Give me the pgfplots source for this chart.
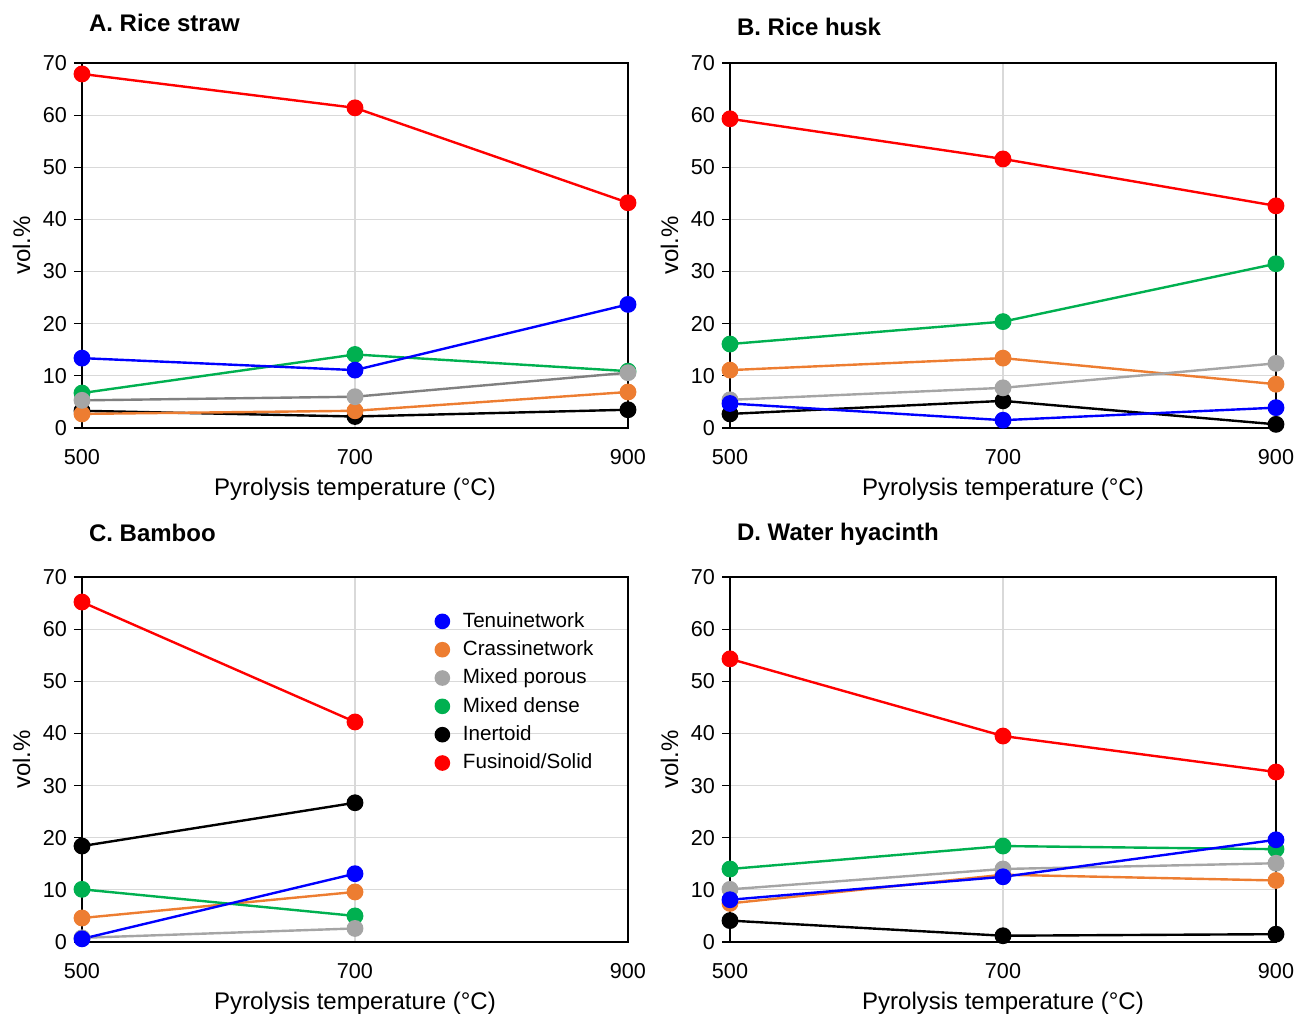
\documentclass[border=0pt]{standalone}
\usepackage{fontspec}
\setmainfont{Liberation Sans}
\usepackage{pgfplots}
\usepgfplotslibrary{groupplots}
\pgfplotsset{compat=1.18}

\definecolor{cblue}{RGB}{0,0,255}
\definecolor{corange}{RGB}{237,125,49}
\definecolor{cgray}{RGB}{165,165,165}
\definecolor{cdkgray}{RGB}{128,128,128}
\definecolor{cgreen}{RGB}{0,176,80}
\definecolor{cred}{RGB}{255,0,0}
\definecolor{cgrid}{RGB}{217,217,217}

\pgfplotsset{
  tenui/.style={color=cblue, mark=*, line width=1.2pt, mark size=3.6pt, mark options={solid}},
  crass/.style={color=corange, mark=*, line width=1.2pt, mark size=3.6pt, mark options={solid}},
  mporous/.style={color=cgray, mark=*, line width=1.2pt, mark size=3.6pt, mark options={solid}},
  mdense/.style={color=cgreen, mark=*, line width=1.2pt, mark size=3.6pt, mark options={solid}},
  inert/.style={color=black, mark=*, line width=1.2pt, mark size=3.6pt, mark options={solid}},
  fus/.style={color=cred, mark=*, line width=1.2pt, mark size=3.6pt, mark options={solid}},
  every axis title shift=0pt,
}

\begin{document}
\begin{tikzpicture}
\begin{groupplot}[
  group style={group size=2 by 2, horizontal sep=51pt, vertical sep=74.5pt},
  width=273pt, height=182.5pt, scale only axis,
  xmin=500, xmax=900, ymin=0, ymax=70,
  xtick={500,700,900}, ytick={0,10,...,70},
  xtick pos=bottom, ytick pos=left,
  grid=major, major grid style={cgrid, line width=0.6pt},
  axis line style={black, line width=0.7pt},
  tick align=outside, xtick style={draw=none}, ytick style={black, line width=0.6pt},
  major tick length=4pt,
  ticklabel style={font=\fontsize{10.8}{12}\selectfont},
  xticklabel style={yshift=-3pt},
  /pgf/number format/assume math mode=true,
  /pgf/number format/1000 sep={},
  xlabel={Pyrolysis temperature (°C)}, ylabel={vol.\%},
  label style={font=\fontsize{12}{14}\selectfont},
  xlabel style={at={(axis description cs:0.5,-0.184)}, anchor=base},
  ylabel style={at={(axis description cs:-0.095,0.5)}, anchor=base},
  title style={anchor=base west, font=\bfseries\fontsize{12}{14}\selectfont},
  clip=false,
]
\nextgroupplot[title={A. Rice straw}, title style={at={(axis description cs:0,1.085)}}]
\addplot[inert] coordinates {(500,3.3) (700,2.2) (900,3.5)};
\addplot[crass] coordinates {(500,2.7) (700,3.3) (900,6.9)};
\addplot[mdense] coordinates {(500,6.7) (700,14.1) (900,10.9)};
\addplot[mporous, color=cdkgray, mark options={fill=cgray, draw=cgray}] coordinates {(500,5.3) (700,6.0) (900,10.6)};
\addplot[tenui] coordinates {(500,13.4) (700,11.1) (900,23.7)};
\addplot[fus] coordinates {(500,67.9) (700,61.4) (900,43.2)};

\nextgroupplot[title={B. Rice husk}, title style={at={(axis description cs:0,1.074)}}]
\addplot[inert] coordinates {(500,2.7) (700,5.2) (900,0.7)};
\addplot[crass] coordinates {(500,11.1) (700,13.4) (900,8.4)};
\addplot[mdense] coordinates {(500,16.1) (700,20.4) (900,31.5)};
\addplot[mporous] coordinates {(500,5.4) (700,7.7) (900,12.4)};
\addplot[tenui] coordinates {(500,4.7) (700,1.5) (900,3.9)};
\addplot[fus] coordinates {(500,59.3) (700,51.6) (900,42.6)};

\nextgroupplot[title={C. Bamboo}, title style={at={(axis description cs:0,1.096)}},
  legend style={at={(rel axis cs:0.634,0.926)}, anchor=north west, draw=none, fill=none,
    font=\fontsize{10.3}{12}\selectfont, row sep=1.2pt},
  legend cell align=left,
  legend image code/.code={\fill[#1] (0.2cm,0cm) circle (3.3pt); \path (0.2cm+7.7pt,0cm);}]
\addlegendimage{tenui}
\addlegendimage{crass}
\addlegendimage{mporous}
\addlegendimage{mdense}
\addlegendimage{inert}
\addlegendimage{fus}
\addplot[inert] coordinates {(500,18.4) (700,26.7)};
\addplot[crass] coordinates {(500,4.6) (700,9.6)};
\addplot[mdense] coordinates {(500,10.1) (700,5.0)};
\addplot[mporous] coordinates {(500,0.8) (700,2.6)};
\addplot[tenui] coordinates {(500,0.6) (700,13.1)};
\addplot[fus] coordinates {(500,65.2) (700,42.2)};
\legend{Tenuinetwork, Crassinetwork, Mixed porous, Mixed dense, Inertoid, Fusinoid/Solid}

\nextgroupplot[title={D. Water hyacinth}, title style={at={(axis description cs:0,1.101)}}]
\addplot[inert] coordinates {(500,4.1) (700,1.2) (900,1.5)};
\addplot[crass] coordinates {(500,7.4) (700,12.9) (900,11.8)};
\addplot[mdense] coordinates {(500,14.0) (700,18.4) (900,17.8)};
\addplot[mporous] coordinates {(500,10.1) (700,14.0) (900,15.1)};
\addplot[tenui] coordinates {(500,8.1) (700,12.5) (900,19.6)};
\addplot[fus] coordinates {(500,54.3) (700,39.5) (900,32.6)};
\end{groupplot}
\pgfresetboundingbox
\path[use as bounding box] ([shift={(-41pt,31.5pt)}]group c1r1.north west) rectangle ([shift={(10pt,-36pt)}]group c2r2.south east);
\end{tikzpicture}
\end{document}
